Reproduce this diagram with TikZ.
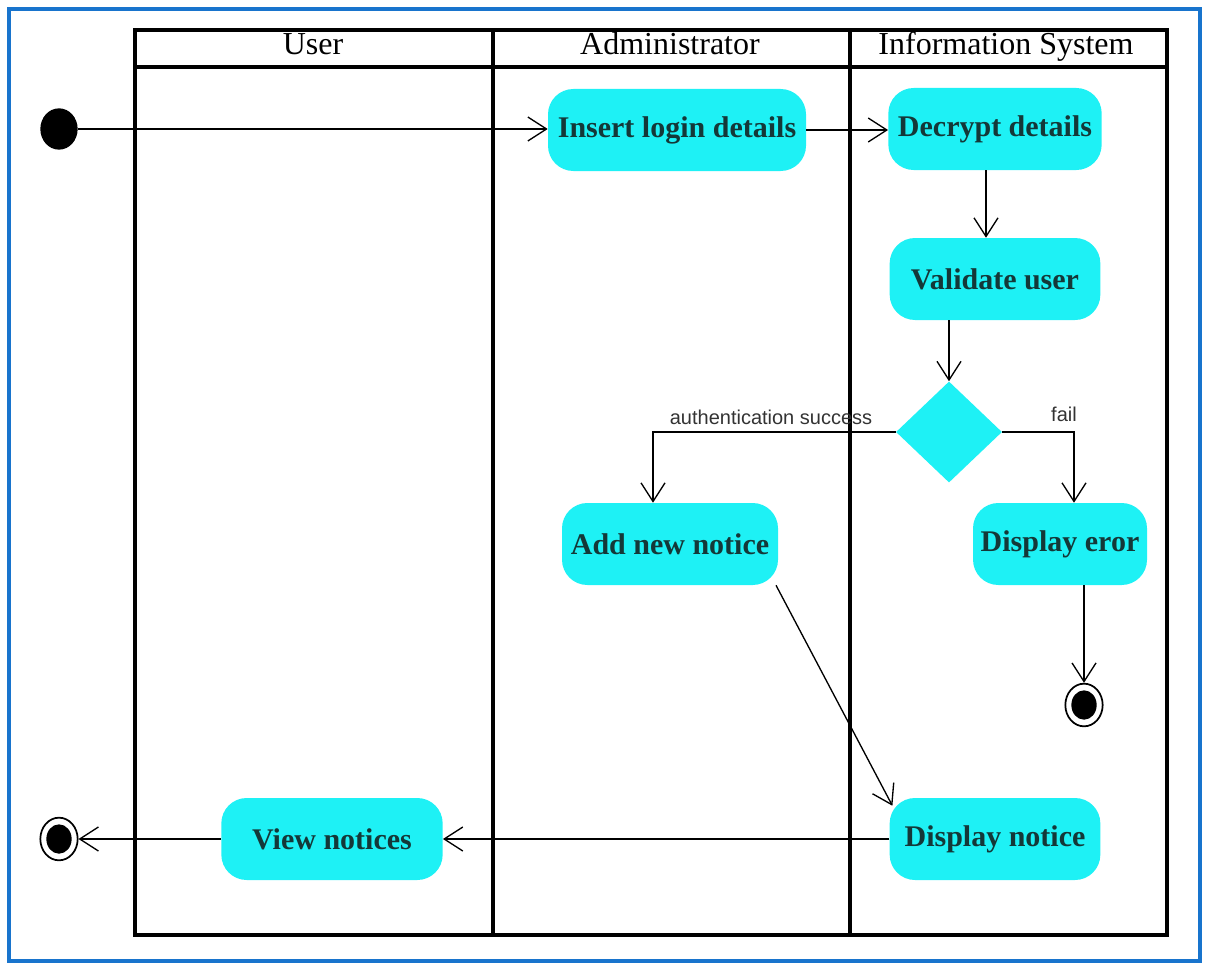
\documentclass[tikz,border=0pt]{standalone}
\usepackage{fontspec}
\setmainfont{Liberation Serif}
\newfontfamily\guardfont{Liberation Sans}
\usetikzlibrary{arrows.meta,shapes.geometric}
\definecolor{frameblue}{HTML}{1874CD}
\definecolor{actfill}{HTML}{1EF1F5}
\definecolor{acttext}{HTML}{143838}
\definecolor{guardtext}{HTML}{333333}
\begin{document}
\begin{tikzpicture}[x=0.75pt,y=-0.75pt,
  lane/.style={line width=2.6pt},
  header/.style={font=\fontsize{24}{28}\selectfont, inner sep=0pt, anchor=base},
  activity/.style={rounded corners=19pt, fill=actfill, text=acttext,
    font=\bfseries\fontsize{22.5}{27}\selectfont, minimum height=61.5pt, inner sep=0pt},
  decision/.style={diamond, fill=actfill, minimum width=79.5pt, minimum height=75.75pt, inner sep=0pt},
  guard/.style={font=\guardfont\fontsize{15}{18}\selectfont, text=guardtext, inner sep=0pt},
  flow/.style={line width=1pt, -{Straight Barb[length=14pt,width=18pt,line width=1pt]}},
  startnode/.style={ellipse, fill=black, minimum width=28pt, minimum height=31pt, inner sep=0pt},
  endnode/.style={ellipse, draw, fill=white, line width=1.3pt, minimum width=28pt, minimum height=32pt, inner sep=0pt},
  enddot/.style={ellipse, fill=black, minimum width=19pt, minimum height=22pt, inner sep=0pt}]
\useasboundingbox (0,0) rectangle (1205,963);
% outer frame
\draw[frameblue, line width=3.2pt] (9,9) rectangle (1200,961);

% swimlanes
\draw[lane] (135,30) rectangle (1167,935);
\draw[lane] (135,67) -- (1167,67);
\draw[lane] (493,30) -- (493,935);
\draw[lane] (850,30) -- (850,935);
\node[header] (hUser) at (313,55) {User};
\node[header] (hAdmin) at (670,55) {Administrator};
\node[header] (hSys) at (1006,55) {Information System};

% activities
\node[activity, minimum width=193.5pt] (ins) at (677,130) {Insert login details};
\node[activity, minimum width=160pt] (dec) at (995,129) {Decrypt details};
\node[activity, minimum width=158pt] (val) at (995,279) {Validate user};
\node[decision] (dia) at (949,432) {};
\node[activity, minimum width=162pt] (add) at (670,544) {Add new notice};
\node[activity, minimum width=130.5pt] (err) at (1060,544) {Display eror};
\node[activity, minimum width=158pt] (dn) at (995,839) {Display notice};
\node[activity, minimum width=166pt] (view) at (332,839) {View notices};

% initial and final nodes
\node[startnode] (start) at (59,129) {};
\node[endnode] (end1) at (1084,705) {};
\node[enddot] (end1dot) at (end1) {};
\node[endnode] (end2) at (59,839) {};
\node[enddot] (end2dot) at (end2) {};

% control flows
\draw[flow] (start.east) -- (start.east -| ins.west);
\draw[flow] (ins.east) -- (ins.east -| dec.west);
\draw[flow] ([xshift=-6.75pt]dec.south) -- ([xshift=-6.75pt]val.north);
\draw[flow] (dia.north |- val.south) -- (dia.north);
\draw[flow] (dia.west) -| ([xshift=-12.75pt]add.north);
\draw[flow] (dia.east) -| ([xshift=10.5pt]err.north);
\draw[flow] (end1.north |- err.south) -- (end1.north);
\draw[flow] ([xshift=79.5pt]add.south) -- ([shift={(2.25pt,-6pt)}]dn.north west);
\draw[flow] (dn.west) -- (view.east);
\draw[flow] (view.west) -- (end2.east);

% guards
\node[guard] (gOk) at (771,417) {authentication success};
\node[guard] (gFail) at (1064,414) {fail};
\end{tikzpicture}
\end{document}
